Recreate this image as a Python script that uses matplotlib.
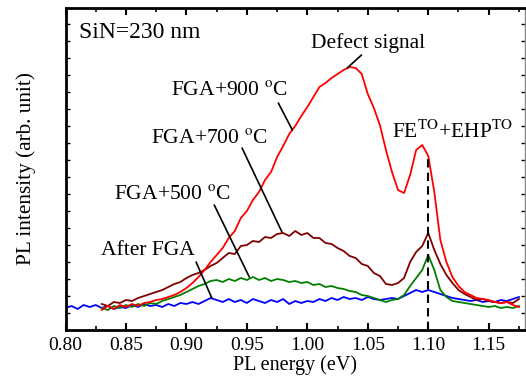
import numpy as np
import matplotlib
matplotlib.use("Agg")
import matplotlib.pyplot as plt

plt.rcParams['font.family'] = ['Liberation Serif', 'DejaVu Serif']
plt.rcParams['mathtext.fontset'] = 'stix'

# ---------------- data (PL intensity, arb. unit) ----------------
# After FGA: energies 0.800 .. 1.175 eV, step 0.005
after_fga_start = 0.800
after_fga = [
    22, 24, 21, 25, 23, 25, 22, 24, 21, 23,
    22, 25, 23, 26, 24, 25, 23, 26, 24, 27,
    26, 28, 26, 29, 32, 30, 28, 31, 28, 30,
    27, 31, 29, 27, 30, 28, 31, 26, 29, 27,
    29, 28, 31, 29, 32, 30, 33, 31, 32, 30,
    33, 31, 30, 31, 32, 31, 34, 37, 40, 38,
    40, 38, 36, 34, 32, 31, 30, 29, 30, 28,
    29, 28, 30, 29, 31, 33,
]
# FGA+500 C: energies 0.830 .. 1.175 eV, step 0.005
fga500_start = 0.830
fga500 = [
    22, 20, 24, 22, 25, 23, 26, 24, 27, 26,
    29, 31, 33, 35, 38, 41, 44, 46, 49, 50,
    48, 51, 49, 52, 50, 53, 50, 52, 49, 51,
    50, 48, 49, 47, 48, 45, 46, 43, 44, 42,
    41, 39, 38, 35, 34, 32, 30, 28, 30, 31,
    35, 44, 52, 60, 75, 60, 40, 33, 29, 28,
    27, 26, 25, 24, 23, 24, 22, 23, 22, 24,
]
# FGA+700 C
fga700_start = 0.830
fga700 = [
    26, 24, 28, 27, 30, 29, 32, 34, 36, 38,
    40, 43, 46, 48, 52, 55, 57, 60, 64, 67,
    72, 77, 76, 84, 85, 89, 88, 93, 92, 96,
    97, 94, 99, 95, 97, 92, 92, 87, 86, 82,
    79, 74, 72, 66, 64, 57, 54, 46, 45, 47,
    52, 68, 78, 84, 97, 80, 66, 55, 47, 40,
    36, 33, 30, 31, 29, 28, 27, 28, 27, 31,
]
# FGA+900 C
fga900_start = 0.830
fga900 = [
    20, 24, 21, 25, 23, 26, 24, 27, 28, 30,
    31, 33, 35, 38, 42, 47, 53, 60, 68, 75,
    82, 92, 99, 112, 119, 130, 138, 150, 158, 173,
    184, 196, 204, 214, 223, 233, 243, 247, 252, 256,
    260, 263, 262, 256, 236, 222, 205, 180, 158, 140,
    137, 155, 180, 185, 174, 138, 90, 68, 53, 44,
    38, 35, 32, 31, 30, 28, 27, 28, 25, 23,
]
step = 0.005

series = [
    (after_fga_start, after_fga, '#0000ff'),
    (fga500_start, fga500, '#008000'),
    (fga700_start, fga700, '#800000'),
    (fga900_start, fga900, '#ff0000'),
]

fe_ehp_energy = 1.10
fe_ehp_top = 172

xticks = [0.80, 0.85, 0.90, 0.95, 1.00, 1.05, 1.10, 1.15]

# ---------------- figure ----------------
fig = plt.figure(figsize=(5.26, 3.80), dpi=100)
ax = fig.add_axes([65.5 / 526, 50 / 380, (525 - 65.5) / 526, 322 / 380])

def energies(start, vals):
    return np.round(start + step * np.arange(len(vals)), 4)

for start, vals, col in series:
    ax.plot(energies(start, vals), vals, color=col, lw=1.3)

ax.plot([fe_ehp_energy, fe_ehp_energy], [0, fe_ehp_top], color='black',
        lw=1.5, ls=(0, (4, 2.5)))

ax.set_xlim(0.80, 1.18)
ax.set_ylim(0, 322)
ax.set_xticks(xticks)
ax.set_xticklabels([f"{t:.2f}" for t in xticks])
ax.set_xticks(np.arange(0.825, 1.18, 0.05), minor=True)
ax.set_yticks(np.arange(0, 322, 17))
ax.set_yticklabels([])
ax.tick_params(axis='both', which='both', direction='in', top=True, right=True)
ax.tick_params(axis='x', which='major', length=5, width=1.5, labelsize=14, pad=5)
ax.tick_params(axis='x', which='minor', length=3, width=1.2)
ax.tick_params(axis='y', which='major', length=3, width=1.0)
for side in ['left', 'bottom', 'top']:
    ax.spines[side].set_linewidth(2.0)
ax.spines['right'].set_linewidth(1.0)
ax.spines['right'].set_color('#888888')

ax.set_xlabel('PL energy (eV)', fontsize=14.5, labelpad=1)
ax.set_ylabel('PL intensity (arb. unit)', fontsize=15.3, labelpad=18)

# ---------------- annotations ----------------
fs = 15.5
ax.text(0.811, 292, 'SiN=230 nm', fontsize=17, ha='left', va='baseline')
ax.text(1.0033, 282, 'Defect signal', fontsize=fs, ha='left', va='baseline')
ax.text(0.8872, 235, r'FGA+900 $^{\rm o}$C', fontsize=fs, ha='left', va='baseline')
ax.text(0.8704, 187, r'FGA+700 $^{\rm o}$C', fontsize=fs, ha='left', va='baseline')
ax.text(0.840, 131, r'FGA+500 $^{\rm o}$C', fontsize=fs, ha='left', va='baseline')
ax.text(0.8292, 75, 'After FGA', fontsize=fs, ha='left', va='baseline')
ax.text(1.0697, 192, r'FE$^{\rm TO}$+EHP$^{\rm TO}$', fontsize=fs, ha='left', va='baseline')

def pointer(x0, y0, x1, y1):
    ax.annotate('', xy=(x1, y1), xytext=(x0, y0),
                arrowprops=dict(arrowstyle='-', color='black', lw=1.2,
                                shrinkA=0, shrinkB=0))

pointer(1.0448, 275, 1.033, 262)
pointer(0.976, 227, 0.9876, 200)
pointer(0.946, 182, 0.979, 98)
pointer(0.923, 125, 0.952, 53)
pointer(0.908, 68, 0.921, 32)

fig.savefig('out.png', dpi=100)
